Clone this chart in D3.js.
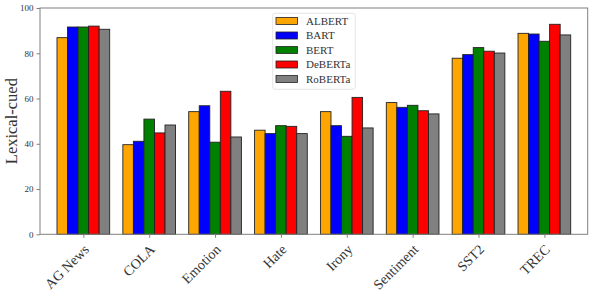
<!DOCTYPE html>
<html>
<head>
<meta charset="utf-8">
<script src="https://cdn.jsdelivr.net/npm/d3@7"></script>
<style>
  body { margin: 0; background: white; }
  text { font-family: "Liberation Serif", "DejaVu Serif", serif; fill: #333; }
</style>
</head>
<body>
<div id="chart"></div>
<script>
let w = 592;
let h = 292;

let datasets = ["AG News", "COLA", "Emotion", "Hate", "Irony", "Sentiment", "SST2", "TREC"];
let models = ["ALBERT", "BART", "BERT", "DeBERTa", "RoBERTa"];
let colors = ["orange", "blue", "green", "red", "grey"];

// values per model, same order as datasets
let albert  = [86.9, 39.6, 54.2, 46.0, 54.2, 58.2, 77.8, 88.8];
let bart    = [91.6, 41.1, 56.8, 44.5, 48.0, 56.1, 79.4, 88.5];
let bert    = [91.6, 50.9, 40.7, 48.0, 43.3, 57.0, 82.5, 85.3];
let deberta = [92.0, 44.8, 63.2, 47.7, 60.5, 54.6, 80.9, 92.8];
let roberta = [90.6, 48.3, 43.0, 44.5, 47.0, 53.2, 80.1, 88.1];
let series = [albert, bart, bert, deberta, roberta];

let yTicks = [0, 20, 40, 60, 80, 100];

let padL = 40, padR = 587.7, padT = 8, padB = 234.3;
let barW = 0.16;

let viz = d3.select("#chart")
  .append("svg")
  .attr("width", w)
  .attr("height", h);

let xScale = d3.scaleLinear().domain([-0.658, 7.658]).range([padL, padR]);
let yScale = d3.scaleLinear().domain([0, 100]).range([padB, padT]);

// bars
series.forEach(function(vals, m){
  viz.selectAll(".bar" + m).data(vals).enter()
    .append("rect")
    .attr("class", "bar" + m)
    .attr("x", function(d, i){ return xScale(i - 0.4 + m * barW); })
    .attr("width", xScale(barW) - xScale(0))
    .attr("y", function(d){ return yScale(d); })
    .attr("height", function(d){ return yScale(0) - yScale(d); })
    .attr("fill", colors[m])
    .attr("stroke", "#222")
    .attr("stroke-width", 0.9);
});

// frame
viz.append("rect")
  .attr("x", padL).attr("y", padT)
  .attr("width", padR - padL).attr("height", padB - padT)
  .attr("fill", "none")
  .attr("stroke", "#808080")
  .attr("stroke-width", 1);

// y axis
let yAxis = viz.append("g")
  .attr("transform", "translate(" + padL + ",0)")
  .call(d3.axisLeft(yScale).tickValues(yTicks).tickSize(3.5).tickPadding(3));
yAxis.select(".domain").remove();
yAxis.selectAll("line").attr("stroke", "#808080");
yAxis.selectAll("text").style("font-size", "9px").style("font-family", "Liberation Serif, serif").attr("fill", "#333");

// x axis
let xAxis = viz.append("g")
  .attr("transform", "translate(0," + padB + ")")
  .call(d3.axisBottom(xScale).tickValues(d3.range(datasets.length)).tickFormat(function(i){ return datasets[i]; }).tickSize(3.5));
xAxis.select(".domain").remove();
xAxis.selectAll("line").attr("stroke", "#808080");
xAxis.selectAll("text")
  .style("font-size", "14px")
  .style("font-family", "Liberation Serif, serif")
  .attr("fill", "#333")
  .attr("text-anchor", "end")
  .attr("dy", "0.35em")
  .attr("transform", "translate(-2,8) rotate(-45)");

// y label
viz.append("text")
  .attr("transform", "translate(17," + ((padT + padB) / 2) + ") rotate(-90)")
  .attr("text-anchor", "middle")
  .style("font-size", "16.5px")
  .text("Lexical-cued");

// legend
let lg = viz.append("g");
lg.append("rect")
  .attr("x", 272.7).attr("y", 13.3)
  .attr("width", 82.5).attr("height", 76)
  .attr("rx", 2.5)
  .attr("fill", "white").attr("fill-opacity", 0.8)
  .attr("stroke", "#ddd").attr("stroke-width", 0.8);

let rows = lg.selectAll(".lrow").data(models).enter()
  .append("g")
  .attr("class", "lrow")
  .attr("transform", function(d, i){ return "translate(276," + (21 + i * 14.5) + ")"; });
rows.append("rect")
  .attr("x", 0).attr("y", -3.5)
  .attr("width", 21.5).attr("height", 7)
  .attr("fill", function(d, i){ return colors[i]; })
  .attr("stroke", "#222").attr("stroke-width", 0.8);
rows.append("text")
  .attr("x", 30)
  .attr("dy", "0.35em")
  .style("font-size", "11px")
  .text(function(d){ return d; });
</script>
</body>
</html>
